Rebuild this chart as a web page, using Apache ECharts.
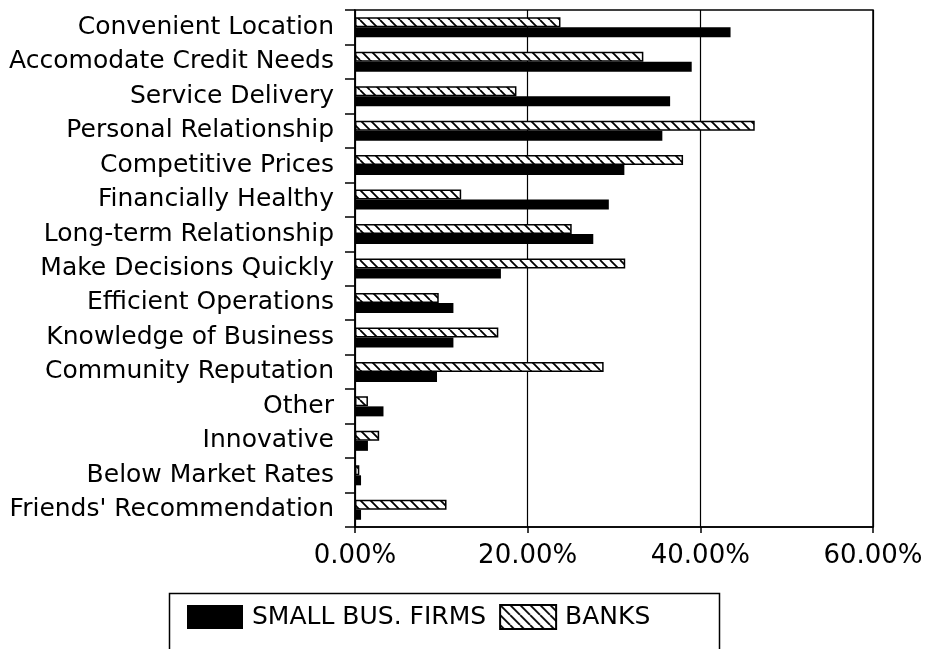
<!DOCTYPE html>
<html>
<head>
<meta charset="utf-8">
<script src="https://cdn.jsdelivr.net/npm/echarts@6/dist/echarts.min.js"></script>
<style>
html,body{margin:0;padding:0;background:#fff;}
#chart{width:927px;height:649px;}
</style>
</head>
<body>
<div id="chart"></div>
<script>
const categories = [
  "Convenient Location",
  "Accomodate Credit Needs",
  "Service Delivery",
  "Personal Relationship",
  "Competitive Prices",
  "Financially Healthy",
  "Long-term Relationship",
  "Make Decisions Quickly",
  "Efficient Operations",
  "Knowledge of Business",
  "Community Reputation",
  "Other",
  "Innovative",
  "Below Market Rates",
  "Friends' Recommendation"
];
const smallBusFirms = [43.5, 39.0, 36.5, 35.6, 31.2, 29.4, 27.6, 16.9, 11.4, 11.4, 9.5, 3.3, 1.5, 0.7, 0.7];
const banks = [23.8, 33.4, 18.7, 46.3, 38.0, 12.3, 25.1, 31.3, 9.7, 16.6, 28.8, 1.5, 2.8, 0.5, 10.6];
const seriesNames = ["SMALL BUS. FIRMS", "BANKS"];
const xMin = 0, xMax = 60, xStep = 20;

function hatch() {
  const c = document.createElement('canvas');
  c.width = 10; c.height = 10;
  const g = c.getContext('2d');
  g.fillStyle = '#fff';
  g.fillRect(0, 0, 10, 10);
  g.strokeStyle = '#000';
  g.lineWidth = 1.8;
  g.beginPath();
  [-10, 0, 10].forEach(k => { g.moveTo(k, 0); g.lineTo(k + 10, 10); });
  g.stroke();
  return c;
}

const FONT = '"DejaVu Sans", sans-serif';
const chart = echarts.init(document.getElementById('chart'), null, {renderer: 'canvas'});
chart.setOption({
  animation: false,
  backgroundColor: '#fff',
  grid: {left: 355, right: 54, top: 10, bottom: 122, show: true, borderColor: '#000', borderWidth: 1.5, backgroundColor: 'transparent'},
  xAxis: {
    type: 'value', min: xMin, max: xMax, interval: xStep,
    axisLine: {show: true, lineStyle: {color: '#000', width: 1.5}},
    axisTick: {show: true, inside: false, length: 6, lineStyle: {color: '#000', width: 1.5}},
    splitLine: {show: true, lineStyle: {color: '#000', width: 1.2}},
    axisLabel: {
      margin: 16, color: '#000', fontSize: 26, fontFamily: FONT,
      formatter: v => v.toFixed(2) + '%'
    }
  },
  yAxis: {
    type: 'category', data: categories, inverse: true,
    axisLine: {show: true, lineStyle: {color: '#000', width: 1.5}},
    axisTick: {show: true, inside: false, length: 10, lineStyle: {color: '#000', width: 1.5}},
    axisLabel: {margin: 21, color: '#000', fontSize: 25, fontFamily: FONT}
  },
  legend: {
    data: seriesNames,
    left: 182, top: 599,
    orient: 'horizontal',
    itemWidth: 56, itemHeight: 24, itemGap: 13,
    icon: 'rect',
    textStyle: {color: '#000', fontSize: 25, fontFamily: FONT, padding: [0, 0, 0, 4]}
  },
  graphic: [{
    type: 'rect', left: 167, top: 591,
    shape: {width: 550, height: 57},
    style: {fill: 'none', stroke: '#000', lineWidth: 1.5}
  }],
  series: [
    {
      name: seriesNames[1], type: 'bar', data: banks,
      barWidth: 10, barGap: '0%',
      itemStyle: {color: {image: hatch(), repeat: 'repeat'}, borderColor: '#000', borderWidth: 1.5}
    },
    {
      name: seriesNames[0], type: 'bar', data: smallBusFirms,
      barWidth: 10, barGap: '0%',
      itemStyle: {color: '#000'}
    }
  ]
});
</script>
</body>
</html>
